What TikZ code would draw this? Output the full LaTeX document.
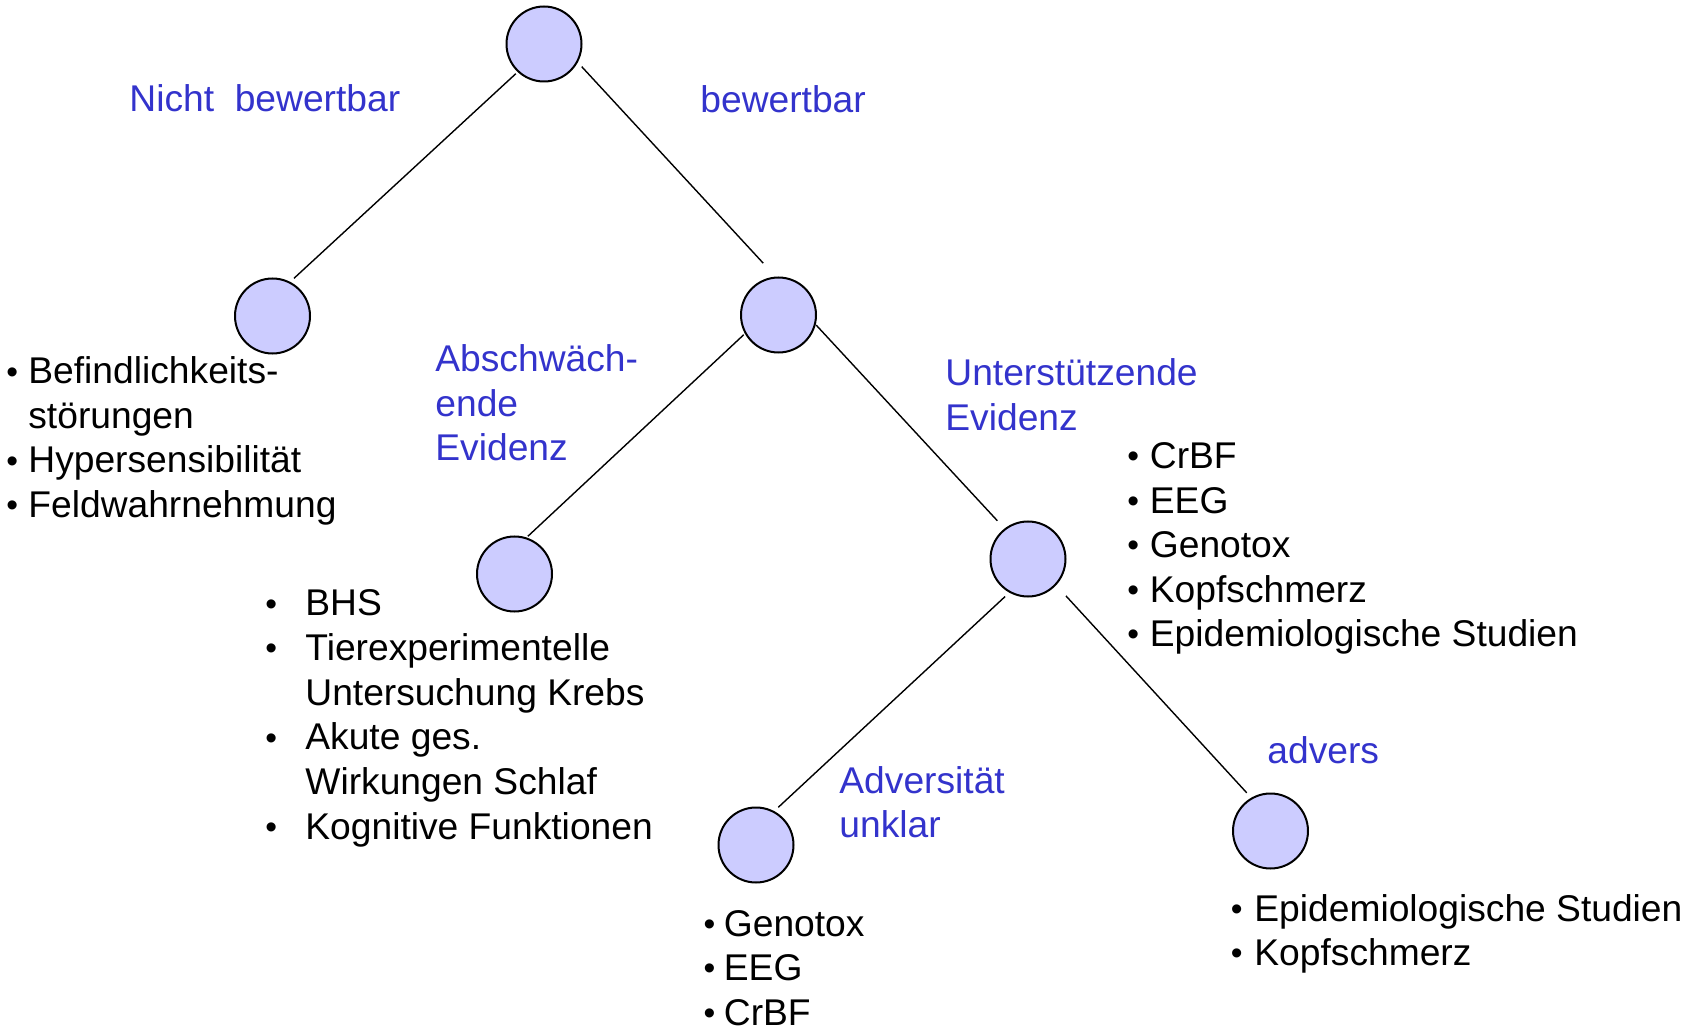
\documentclass[tikz,border=0pt]{standalone}
\usepackage{fontspec}
\setmainfont{Liberation Sans}
\usetikzlibrary{calc}
\definecolor{nodefill}{HTML}{CCCCFF}
\definecolor{lblue}{HTML}{3333CC}
\newcommand\bul[1]{\llap{\makebox[#1][l]{\raisebox{0.3pt}{\scalebox{0.9}{\textbullet}}}}}
\begin{document}
\begin{tikzpicture}[x=0.5pt,y=-0.5pt,
  dot/.style={circle,draw=black,line width=1pt,fill=nodefill,minimum size=37.5pt,inner sep=0pt},
  conn/.style={line width=0.7pt,black},
  txt/.style={anchor=base west,inner sep=0pt,font=\fontsize{18.6}{22}\selectfont},
  lbl/.style={txt,text=lblue}]
\useasboundingbox (0,0) rectangle (1699,1027);
% circles
\node[dot] (root) at (544,44) {};
\node[dot] (A) at (272.5,316) {};
\node[dot] (B) at (778.5,315) {};
\node[dot] (C) at (514.5,574) {};
\node[dot] (D) at (1028,559) {};
\node[dot] (E) at (756,845) {};
\node[dot] (F) at (1270.5,831) {};
% connectors
\draw[conn] ($(root.center)+(226.5:20.5pt)$) -- ($(A.center)+(60.3:21.7pt)$);
\draw[conn] ($(root.center)+(-31:22pt)$) -- ($(B.center)+(106.4:27pt)$);
\draw[conn] ($(B.center)+(209.6:20pt)$) -- ($(C.center)+(70.5:20pt)$);
\draw[conn] ($(B.center)+(-15:19.5pt)$) -- ($(D.center)+(128.7:24.5pt)$);
\draw[conn] ($(D.center)+(238.6:22pt)$) -- ($(E.center)+(59.4:21.9pt)$);
\draw[conn] ($(D.center)+(-44.2:26.5pt)$) -- ($(F.center)+(121.9:22.5pt)$);
% blue labels
\node[lbl] (nb) at (129,112) {Nicht~~bewertbar};
\node[lbl] (bw) at (700,113) {bewertbar};
\node[lbl] (ab1) at (435,371.6) {Abschwäch-};
\node[lbl] (ab2) at (435,416.1) {ende};
\node[lbl] (ab3) at (435,460.6) {Evidenz};
\node[lbl] (un1) at (945,385.7) {Unterstützende};
\node[lbl] (un2) at (945,430.2) {Evidenz};
\node[lbl] (ad1) at (839,793) {Adversität};
\node[lbl] (ad2) at (839,837.5) {unklar};
\node[lbl] (adv) at (1267,763) {advers};
% left list
\node[txt] (l1) at (28,384) {\bul{11pt}Befindlichkeits-};
\node[txt] (l2) at (28,428.5) {störungen};
\node[txt] (l3) at (28,473) {\bul{11pt}Hypersensibilität};
\node[txt] (l4) at (28,517.5) {\bul{11pt}Feldwahrnehmung};
% middle list
\node[txt] (m1) at (305,615.6) {\bul{20pt}BHS};
\node[txt] (m2) at (305,660.3) {\bul{20pt}Tierexperimentelle};
\node[txt] (m3) at (305,705) {Untersuchung Krebs};
\node[txt] (m4) at (305,749.7) {\bul{20pt}Akute ges.};
\node[txt] (m5) at (305,794.4) {Wirkungen Schlaf};
\node[txt] (m6) at (305,839) {\bul{20pt}Kognitive Funktionen};
% right list
\node[txt] (r1) at (1149.5,468.5) {\bul{11.3pt}CrBF};
\node[txt] (r2) at (1149.5,513) {\bul{11.3pt}EEG};
\node[txt] (r3) at (1149.5,557.5) {\bul{11.3pt}Genotox};
\node[txt] (r4) at (1149.5,602) {\bul{11.3pt}Kopfschmerz};
\node[txt] (r5) at (1149.5,646.5) {\bul{11.3pt}Epidemiologische Studien};
% bottom E list
\node[txt] (e1) at (723.5,936) {\bul{10.2pt}Genotox};
\node[txt] (e2) at (723.5,980.5) {\bul{10.2pt}EEG};
\node[txt] (e3) at (723.5,1025) {\bul{10.2pt}CrBF};
% bottom F list
\node[txt] (f1) at (1254,921) {\bul{11.8pt}Epidemiologische Studien};
\node[txt] (f2) at (1254,965) {\bul{11.8pt}Kopfschmerz};
\end{tikzpicture}
\end{document}
